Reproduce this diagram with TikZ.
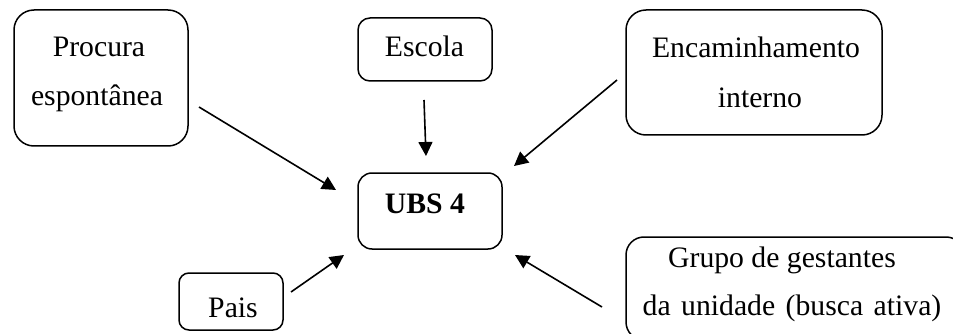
\documentclass[tikz,border=0pt]{standalone}
\usepackage{fontspec}
\setmainfont{Liberation Serif}
\usetikzlibrary{arrows.meta}

\tikzset{
  box/.style={draw=black, line width=1.5pt, rectangle, inner sep=0pt},
  txt/.style={inner sep=0pt, anchor=base, font=\fontsize{29.7}{36}\selectfont},
  flow/.style={line width=1.6pt, -{Triangle[length=14pt,width=14pt]}}
}

\begin{document}
\begin{tikzpicture}[x=1pt, y=-1pt]
  \useasboundingbox (0,0) rectangle (953,334);
  \clip (0,0) rectangle (953,334);

  % frames
  \node[box, rounded corners=20pt, minimum width=174pt, minimum height=136pt] (procura) at (101,78) {};
  \node[box, rounded corners=12pt, minimum width=134pt, minimum height=63pt] (escola) at (425,49.5) {};
  \node[box, rounded corners=20pt, minimum width=256pt, minimum height=125pt] (encam) at (754,72.5) {};
  \node[box, rounded corners=14pt, minimum width=144pt, minimum height=76pt] (ubs) at (430,211) {};
  \node[box, rounded corners=10pt, minimum width=104pt, minimum height=57pt] (pais) at (231,301.5) {};
  \node[box, rounded corners=18pt, minimum width=338pt, minimum height=103pt] (grupo) at (795,288.5) {};

  % labels
  \node[txt] (procura1) at (99,57) {Procura};
  \node[txt] (procura2) at (97,106) {espontânea};
  \node[txt] (escolat) at (424.5,57) {Escola};
  \node[txt] (encam1) at (756,58) {Encaminhamento};
  \node[txt] (encam2) at (760,108) {interno};
  \node[txt, font=\fontsize{29.7}{36}\selectfont\bfseries] (ubst) at (425,213) {UBS 4};
  \node[txt] (paist) at (233,317) {Pais};
  \node[txt] (grupo1) at (782,267) {Grupo de gestantes};
  \node[txt] (grupo2) at (792,315) {da\hspace{10.5pt}unidade\hspace{10.5pt}(busca\hspace{10.5pt}ativa)};

  % arrow ends
  \coordinate (pA) at (199,107);   \coordinate (pB) at (336,190);
  \coordinate (eA) at (424,100);   \coordinate (eB) at (426,156);
  \coordinate (iA) at (617,80);    \coordinate (iB) at (514,166);
  \coordinate (sA) at (291,292);   \coordinate (sB) at (344,255);
  \coordinate (gA) at (602,307);   \coordinate (gB) at (515,255);

  % connectors into UBS 4
  \draw[flow] (pA) -- (pB);
  \draw[flow] (eA) -- (eB);
  \draw[flow] (iA) -- (iB);
  \draw[flow] (sA) -- (sB);
  \draw[flow] (gA) -- (gB);
\end{tikzpicture}
\end{document}
